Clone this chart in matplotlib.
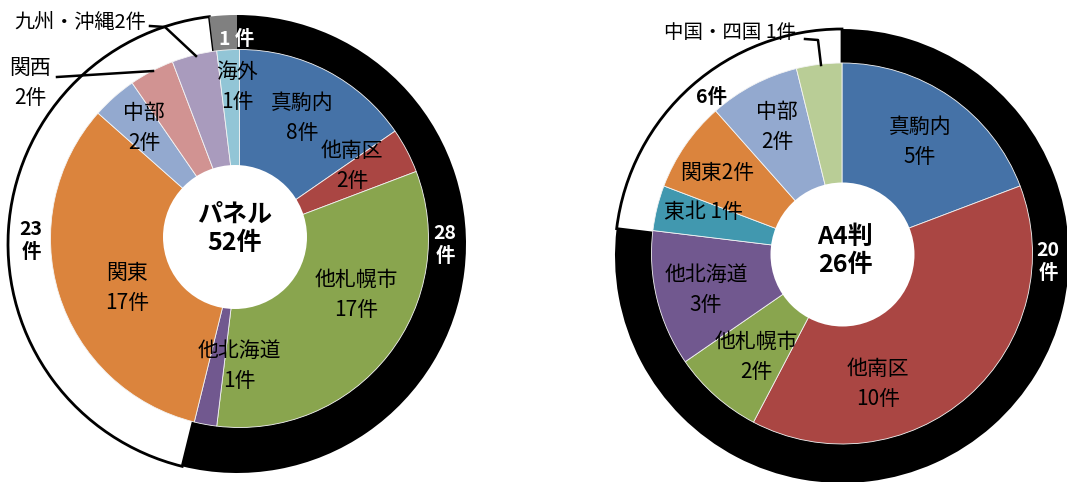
import matplotlib
matplotlib.use("Agg")
import matplotlib.pyplot as plt
from matplotlib.patches import Circle

plt.rcParams['font.family'] = ['Noto Sans CJK JP', 'DejaVu Sans']

W, H = 1067, 482

# ---------------- data ----------------
panel_cats = ["真駒内", "他南区", "他札幌市", "他北海道", "関東", "中部", "関西", "九州・沖縄", "海外"]
panel_vals = [8, 2, 17, 1, 17, 2, 2, 2, 1]
panel_group_vals = [28, 23, 1]          # 道内 / 国内道外 / 海外
panel_title = "パネル"

a4_cats = ["真駒内", "他南区", "他札幌市", "他北海道", "東北", "関東", "中部", "中国・四国"]
a4_vals = [5, 10, 2, 3, 1, 2, 2, 1]
a4_group_vals = [20, 6]                 # 道内 / 道外
a4_title = "A4判"

# ---------------- styles ----------------
cat_colors = {
    "真駒内": "#4572A7", "他南区": "#AA4643", "他札幌市": "#89A54E",
    "他北海道": "#71588F", "東北": "#4198AF", "関東": "#DB843D",
    "中部": "#93A9CF", "関西": "#D19392", "九州・沖縄": "#A99BBD",
    "海外": "#92C5D6", "中国・四国": "#B9CD96",
}

fig = plt.figure(figsize=(W / 100, H / 100), dpi=100)
ax = fig.add_axes([0, 0, 1, 1])


def Y(y):
    return H - y


def donut(cats, vals, groups, group_colors, outer_c, outer_r, inner_c, inner_r, hole_c, hole_r):
    ow, _ = ax.pie(groups, radius=outer_r, center=(outer_c[0], Y(outer_c[1])), startangle=90,
                   counterclock=False, colors=group_colors, frame=True,
                   wedgeprops=dict(linewidth=0))
    for w, c in zip(ow, group_colors):
        if c == "white":
            w.set_edgecolor("black")
            w.set_linewidth(2.0)
    ax.pie(vals, radius=inner_r, center=(inner_c[0], Y(inner_c[1])), startangle=90,
           counterclock=False, colors=[cat_colors[c] for c in cats], frame=True,
           wedgeprops=dict(edgecolor="#f4f4f4", linewidth=0.6))
    ax.add_patch(Circle((hole_c[0], Y(hole_c[1])), hole_r, facecolor="white", edgecolor="none", zorder=3))


donut(panel_cats, panel_vals, panel_group_vals, ["black", "white", "#808080"],
      (237, 244), 229, (239.5, 238.5), 189, (235, 237), 72)
donut(a4_cats, a4_vals, a4_group_vals, ["black", "white"],
      (842, 256), 227, (842, 253.5), 190.5, (842.5, 254.5), 72)


def label(x, y, s, size=15, weight="normal", color="black", ls=1.45):
    ax.text(x, Y(y), s, ha="center", va="center", fontsize=size, fontweight=weight,
            color=color, linespacing=ls, zorder=5)


# left chart labels
vals = dict(zip(panel_cats, panel_vals))
label(302, 118, f"真駒内\n{vals['真駒内']}件")
label(352, 166, f"他南区\n{vals['他南区']}件")
label(356, 295, f"他札幌市\n{vals['他札幌市']}件")
label(239, 366, f"他北海道\n{vals['他北海道']}件")
label(127, 288, f"関東\n{vals['関東']}件")
label(144, 128, f"中部\n{vals['中部']}件")
label(237, 87, f"海外\n{vals['海外']}件")
label(30, 83, f"関西\n{vals['関西']}件")
label(80, 22, f"九州・沖縄{vals['九州・沖縄']}件", size=14.5)
label(237, 39, f"{panel_group_vals[2]} 件", size=14, weight="bold", color="white")
label(445, 245, f"{panel_group_vals[0]}\n件", size=14, weight="bold", color="white", ls=1.3)
label(31, 241, f"{panel_group_vals[1]}\n件", size=14, weight="bold", ls=1.3)
label(235, 229, f"{panel_title}\n{sum(panel_vals)}件", size=18, weight="bold", ls=1.25)

ax.plot([57, 153], [Y(77), Y(71)], color="black", lw=1.8, zorder=6)
ax.plot([150, 165, 196], [Y(26), Y(27), Y(56)], color="black", lw=1.8, zorder=6)

# right chart labels
v2 = dict(zip(a4_cats, a4_vals))
label(920, 142, f"真駒内\n{v2['真駒内']}件")
label(878, 384, f"他南区\n{v2['他南区']}件")
label(756, 357, f"他札幌市\n{v2['他札幌市']}件")
label(706, 290, f"他北海道\n{v2['他北海道']}件")
label(703, 212, f"東北 {v2['東北']}件")
label(717, 173, f"関東{v2['関東']}件")
label(777, 127, f"中部\n{v2['中部']}件")
label(730, 33, f"中国・四国 {v2['中国・四国']}件", size=14)
label(712, 97, f"{a4_group_vals[1]}件", size=14, weight="bold")
label(1048, 262, f"{a4_group_vals[0]}\n件", size=14, weight="bold", color="white", ls=1.3)
label(845, 251, f"{a4_title}\n{sum(a4_vals)}件", size=18, weight="bold", ls=1.25)

ax.plot([805, 818, 821], [Y(39), Y(40), Y(65)], color="black", lw=1.8, zorder=6)

ax.set_xlim(0, W)
ax.set_ylim(0, H)
ax.set_aspect("equal")
ax.axis("off")

fig.savefig("out.png", dpi=100)
